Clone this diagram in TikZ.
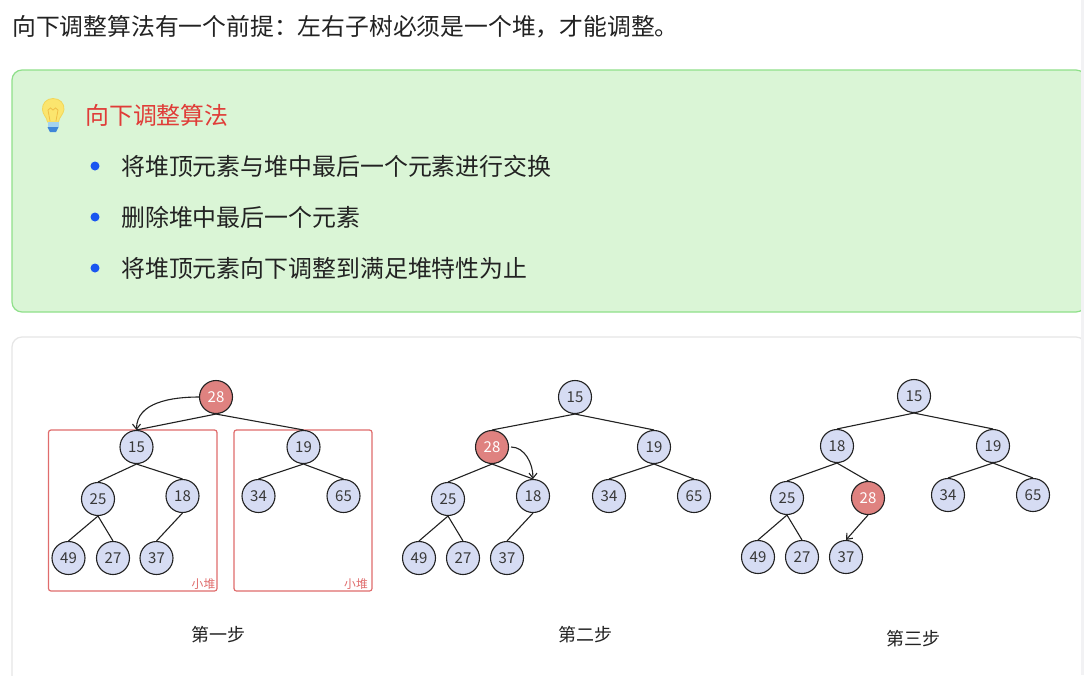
\documentclass[tikz,border=0pt]{standalone}
\usepackage{fontspec}
\setmainfont{Noto Sans CJK SC}
\usetikzlibrary{arrows.meta}

\definecolor{tipfill}{HTML}{DAF5D6}
\definecolor{tipline}{HTML}{8FE08A}
\definecolor{cardline}{HTML}{E6E6E6}
\definecolor{stripgray}{HTML}{F2F2F4}
\definecolor{heapblue}{HTML}{D6DCF3}
\definecolor{heapred}{HTML}{DF8280}
\definecolor{boxred}{HTML}{E06C6C}
\definecolor{titlered}{HTML}{E03C38}
\definecolor{dotblue}{HTML}{1A56F0}
\definecolor{inkgray}{HTML}{222222}
\definecolor{bulbyellow}{HTML}{FBE56E}
\definecolor{bulbrim}{HTML}{F2D65A}
\definecolor{bulbwire}{HTML}{F0BE46}
\definecolor{baselight}{HTML}{A5D3EE}
\definecolor{basedark}{HTML}{3F86D8}

\tikzset{
  heapnode/.style={circle,draw=inkgray,fill=heapblue,line width=1.1pt,minimum size=33pt,
    inner sep=0pt,text=inkgray!90,font=\fontsize{15}{15}\selectfont},
  hotnode/.style={heapnode,fill=heapred,text=white},
  heapedge/.style={draw=inkgray,line width=1.1pt},
  moveedge/.style={draw=inkgray,line width=1.1pt,-{Straight Barb[length=5pt,width=8pt]}},
  subbox/.style={draw=boxred,line width=1.2pt,rounded corners=2.5pt},
  boxlabel/.style={text=boxred,font=\fontsize{11.8}{12}\selectfont,inner sep=0pt},
  bodyline/.style={anchor=west,inner sep=0pt,text=inkgray,font=\fontsize{23.9}{24}\selectfont},
  caption/.style={inner sep=0pt,text=inkgray,font=\fontsize{18}{18}\selectfont}
}

\begin{document}
\begin{tikzpicture}[x=1pt,y=-1pt]

\clip (0,0) rectangle (1084,675);
\fill[white] (0,0) rectangle (1084,675);

% Top line
\node[bodyline,font=\fontsize{23.8}{24}\selectfont] (intro) at (12,27) {向下调整算法有一个前提：左右子树必须是一个堆，才能调整。};

% Green tip box
\draw[fill=tipfill,draw=tipline,line width=1.2pt,rounded corners=10pt] (12,70) rectangle (1086,312);

% Light bulb
\draw[fill=bulbyellow,draw=bulbrim,line width=0.8pt] (53,98.5) .. controls (60,98.5) and (64.5,103.5) .. (64,109.5)
  .. controls (63.5,114.5) and (59,117) .. (58.5,122) -- (47.5,122)
  .. controls (47,117) and (42.5,114.5) .. (42.5,109.5)
  .. controls (42,103.5) and (46.5,98.5) .. (53,98.5);
\draw[bulbwire,line width=0.8pt] (48,110) -- (50,121) (58,110) -- (56,121) (48,110) -- (50.5,108) -- (53,110) -- (55.5,108) -- (58,110);
\fill[baselight] (47.5,122) rectangle (58.5,127);
\fill[basedark] (47.5,127) -- (58.5,127) -- (56,132) -- (50,132) -- cycle;

\node[bodyline,text=titlered] (tiptitle) at (85,115) {向下调整算法};

% Bullet list
\fill[dotblue] (95,166) circle (4.5);
\fill[dotblue] (95,217) circle (4.5);
\fill[dotblue] (95,268) circle (4.5);
\node[bodyline] (lineone) at (121,166) {将堆顶元素与堆中最后一个元素进行交换};
\node[bodyline] (linetwo) at (121,217) {删除堆中最后一个元素};
\node[bodyline] (linethree) at (121,268) {将堆顶元素向下调整到满足堆特性为止};

% White card
\draw[fill=white,draw=cardline,line width=1.2pt,rounded corners=10pt] (12,337) rectangle (1086,700);

% Right edge strip
\fill[stripgray] (1081,0) rectangle (1084,675);

% Small heap boxes
\draw[subbox] (48.5,430) rectangle (217,591);
\draw[subbox] (234,430) rectangle (372,591);
\node[boxlabel] (boxa) at (203.5,584) {小堆};
\node[boxlabel] (boxb) at (356,584) {小堆};

% First step
\node[hotnode] (aroot) at (216,397) {28};
\node[heapnode] (aleft) at (136.5,447) {15};
\node[heapnode] (aright) at (303.5,447) {19};
\node[heapnode] (allow) at (98,499) {25};
\node[heapnode] (alrow) at (182.5,496) {18};
\node[heapnode] (arlow) at (258.5,496) {34};
\node[heapnode] (arrow) at (343.5,496) {65};
\node[heapnode] (aone) at (68.5,558) {49};
\node[heapnode] (atwo) at (113,558) {27};
\node[heapnode] (athree) at (156.5,558) {37};
\draw[heapedge] (aroot.south) -- (aleft.north);
\draw[heapedge] (aroot.south) -- (aright.north);
\draw[heapedge] (aleft.south) -- (allow.north);
\draw[heapedge] (aleft.south) -- (alrow.north);
\draw[heapedge] (aright.south) -- (arlow.north);
\draw[heapedge] (aright.south) -- (arrow.north);
\draw[heapedge] (allow.south) -- (aone.north);
\draw[heapedge] (allow.south) -- (atwo.north);
\draw[heapedge] (alrow.south) -- (athree.north);
\draw[moveedge] (aroot.west) to[out=180,in=90] (aleft.north);
\node[caption] (capa) at (218.5,635) {第一步};

% Second step
\node[heapnode] (broot) at (575,397) {15};
\node[hotnode] (bleft) at (492,447) {28};
\node[heapnode] (bright) at (654,447) {19};
\node[heapnode] (bllow) at (448,499) {25};
\node[heapnode] (blrow) at (533,496) {18};
\node[heapnode] (brlow) at (609,496) {34};
\node[heapnode] (brrow) at (694,496) {65};
\node[heapnode] (bone) at (419,558) {49};
\node[heapnode] (btwo) at (463,558) {27};
\node[heapnode] (bthree) at (507,558) {37};
\draw[heapedge] (broot.south) -- (bleft.north);
\draw[heapedge] (broot.south) -- (bright.north);
\draw[heapedge] (bleft.south) -- (bllow.north);
\draw[heapedge] (bleft.south) -- (blrow.north);
\draw[heapedge] (bright.south) -- (brlow.north);
\draw[heapedge] (bright.south) -- (brrow.north);
\draw[heapedge] (bllow.south) -- (bone.north);
\draw[heapedge] (bllow.south) -- (btwo.north);
\draw[heapedge] (blrow.south) -- (bthree.north);
\draw[moveedge,shorten <=2pt] (bleft.east) to[out=0,in=90] (blrow.north);
\node[caption] (capb) at (585,635) {第二步};

% Third step
\node[heapnode] (croot) at (914,396) {15};
\node[heapnode] (cleft) at (837,446) {18};
\node[heapnode] (cright) at (993,446) {19};
\node[heapnode] (cllow) at (787,498) {25};
\node[hotnode] (clrow) at (868,498) {28};
\node[heapnode] (crlow) at (948,495) {34};
\node[heapnode] (crrow) at (1033,495) {65};
\node[heapnode] (cone) at (758,557) {49};
\node[heapnode] (ctwo) at (802,557) {27};
\node[heapnode] (cthree) at (846,557) {37};
\draw[heapedge] (croot.south) -- (cleft.north);
\draw[heapedge] (croot.south) -- (cright.north);
\draw[heapedge] (cleft.south) -- (cllow.north);
\draw[heapedge] (cleft.south) -- (clrow.north);
\draw[heapedge] (cright.south) -- (crlow.north);
\draw[heapedge] (cright.south) -- (crrow.north);
\draw[heapedge] (cllow.south) -- (cone.north);
\draw[heapedge] (cllow.south) -- (ctwo.north);
\draw[moveedge] (clrow.south) -- (cthree.north);
\node[caption] (capc) at (913,639) {第三步};

\end{tikzpicture}
\end{document}
